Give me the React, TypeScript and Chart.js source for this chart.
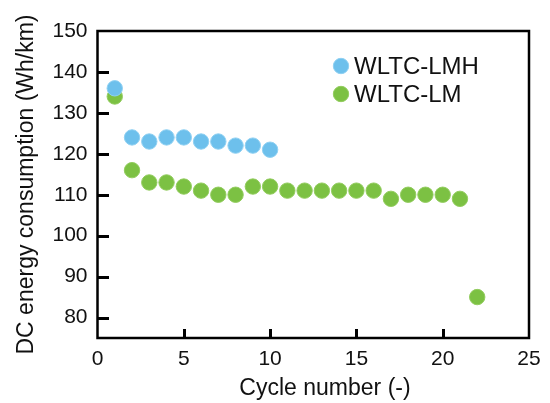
import React, { useEffect, useRef } from "react";
import { Chart, registerables } from "chart.js";

Chart.register(...registerables);

const lmhCycles = [1, 2, 3, 4, 5, 6, 7, 8, 9, 10];
const lmhValues = [136, 124, 123, 124, 124, 123, 123, 122, 122, 121];
const lmCycles = [1, 2, 3, 4, 5, 6, 7, 8, 9, 10, 11, 12, 13, 14, 15, 16, 17, 18, 19, 20, 21, 22];
const lmValues = [134, 116, 113, 113, 112, 111, 110, 110, 112, 112, 111, 111, 111, 111, 111, 111, 109, 110, 110, 110, 109, 85];
const yTicks = [80, 90, 100, 110, 120, 130, 140, 150];
const xTicks = [0, 5, 10, 15, 20, 25];
const seriesNames = ["WLTC-LMH", "WLTC-LM"];
const xTitle = "Cycle number (-)";
const yTitle = "DC energy consumption (Wh/km)";

const FONT = 'Arial, "Liberation Sans", sans-serif';

const framePlugin = {
  id: "frame",
  afterDraw(chart: any) {
    const { ctx, chartArea } = chart;
    const { left, right, top, bottom } = chartArea;
    const ys = chart.scales["y"];
    const xs = chart.scales["x"];
    ctx.save();
    ctx.globalAlpha = 1;
    ctx.globalCompositeOperation = "source-over";
    ctx.fillStyle = "#000000";
    yTicks.forEach((v) => {
      if (v >= 150) return;
      const p = Math.round(ys.getPixelForValue(v));
      ctx.fillRect(Math.round(left), p - 1, 11, 3);
    });
    xTicks.forEach((v) => {
      if (v <= 0 || v >= 25) return;
      const p = Math.round(xs.getPixelForValue(v));
      ctx.fillRect(p - 1, Math.round(bottom) - 9, 3, 9);
    });
    ctx.strokeStyle = "#000";
    ctx.lineWidth = 2.5;
    ctx.strokeRect(left, top, right - left, bottom - top);

    // x-axis title
    ctx.fillStyle = "#111";
    ctx.font = `23px ${FONT}`;
    ctx.textAlign = "center";
    ctx.textBaseline = "alphabetic";
    ctx.fillText(xTitle, 325, 395);

    // legend
    ctx.font = `24px ${FONT}`;
    ctx.textBaseline = "middle";
    ctx.textAlign = "left";
    chart.data.datasets.forEach((ds: any, i: number) => {
      const cy = 66 + i * 28;
      const cx = 341;
      ctx.beginPath();
      ctx.arc(cx, cy, 7.7, 0, Math.PI * 2);
      ctx.fillStyle = ds.backgroundColor;
      ctx.fill();
      ctx.lineWidth = 1;
      ctx.strokeStyle = ds.borderColor;
      ctx.stroke();
      ctx.fillStyle = "#111";
      ctx.fillText(ds.label, 354, cy + 1);
    });
    ctx.restore();
  },
};

export default function App() {
  const ref = useRef<HTMLCanvasElement | null>(null);
  useEffect(() => {
    document.body.style.margin = "0";
    if (!ref.current) return;
    const chart = new Chart(ref.current, {
      type: "scatter",
      data: {
        datasets: [
          {
            label: seriesNames[0],
            data: lmhCycles.map((x, i) => ({ x, y: lmhValues[i] })),
            backgroundColor: "#6DC0EC",
            borderColor: "#8FD0F2",
            borderWidth: 1,
            pointRadius: 7.7,
          },
          {
            label: seriesNames[1],
            data: lmCycles.map((x, i) => ({ x, y: lmValues[i] })),
            backgroundColor: "#7CC143",
            borderColor: "#92CC5E",
            borderWidth: 1,
            pointRadius: 7.7,
          },
        ],
      },
      options: {
        responsive: false,
        animation: false,
        layout: { padding: { top: 31, right: 21, left: 0, bottom: 0 } },
        plugins: { legend: { display: false }, tooltip: { enabled: false } },
        scales: {
          x: {
            type: "linear",
            min: 0,
            max: 25,
            afterBuildTicks: (s: any) => {
              s.ticks = xTicks.map((v) => ({ value: v }));
            },
            afterFit: (s: any) => {
              s.height = 65;
            },
            grid: { display: false, drawTicks: false },
            border: { display: false },
            ticks: {
              padding: 9,
              color: "#111",
              font: { family: FONT, size: 21 },
              maxRotation: 0,
            },
          },
          y: {
            type: "linear",
            min: 75,
            max: 150,
            afterBuildTicks: (s: any) => {
              s.ticks = yTicks.map((v) => ({ value: v }));
            },
            afterFit: (s: any) => {
              s.width = 97.5;
            },
            grid: { display: false, drawTicks: false },
            border: { display: false },
            ticks: {
              padding: 10,
              color: "#111",
              font: { family: FONT, size: 21 },
            },
            title: {
              display: true,
              text: yTitle,
              color: "#111",
              font: { family: FONT, size: 23 },
              padding: { top: 13, bottom: 0 },
            },
          },
        },
      },
      plugins: [framePlugin],
    });
    return () => chart.destroy();
  }, []);
  return (
    <div style={{ width: 550, height: 403 }}>
      <canvas ref={ref} width={550} height={403} />
    </div>
  );
}
